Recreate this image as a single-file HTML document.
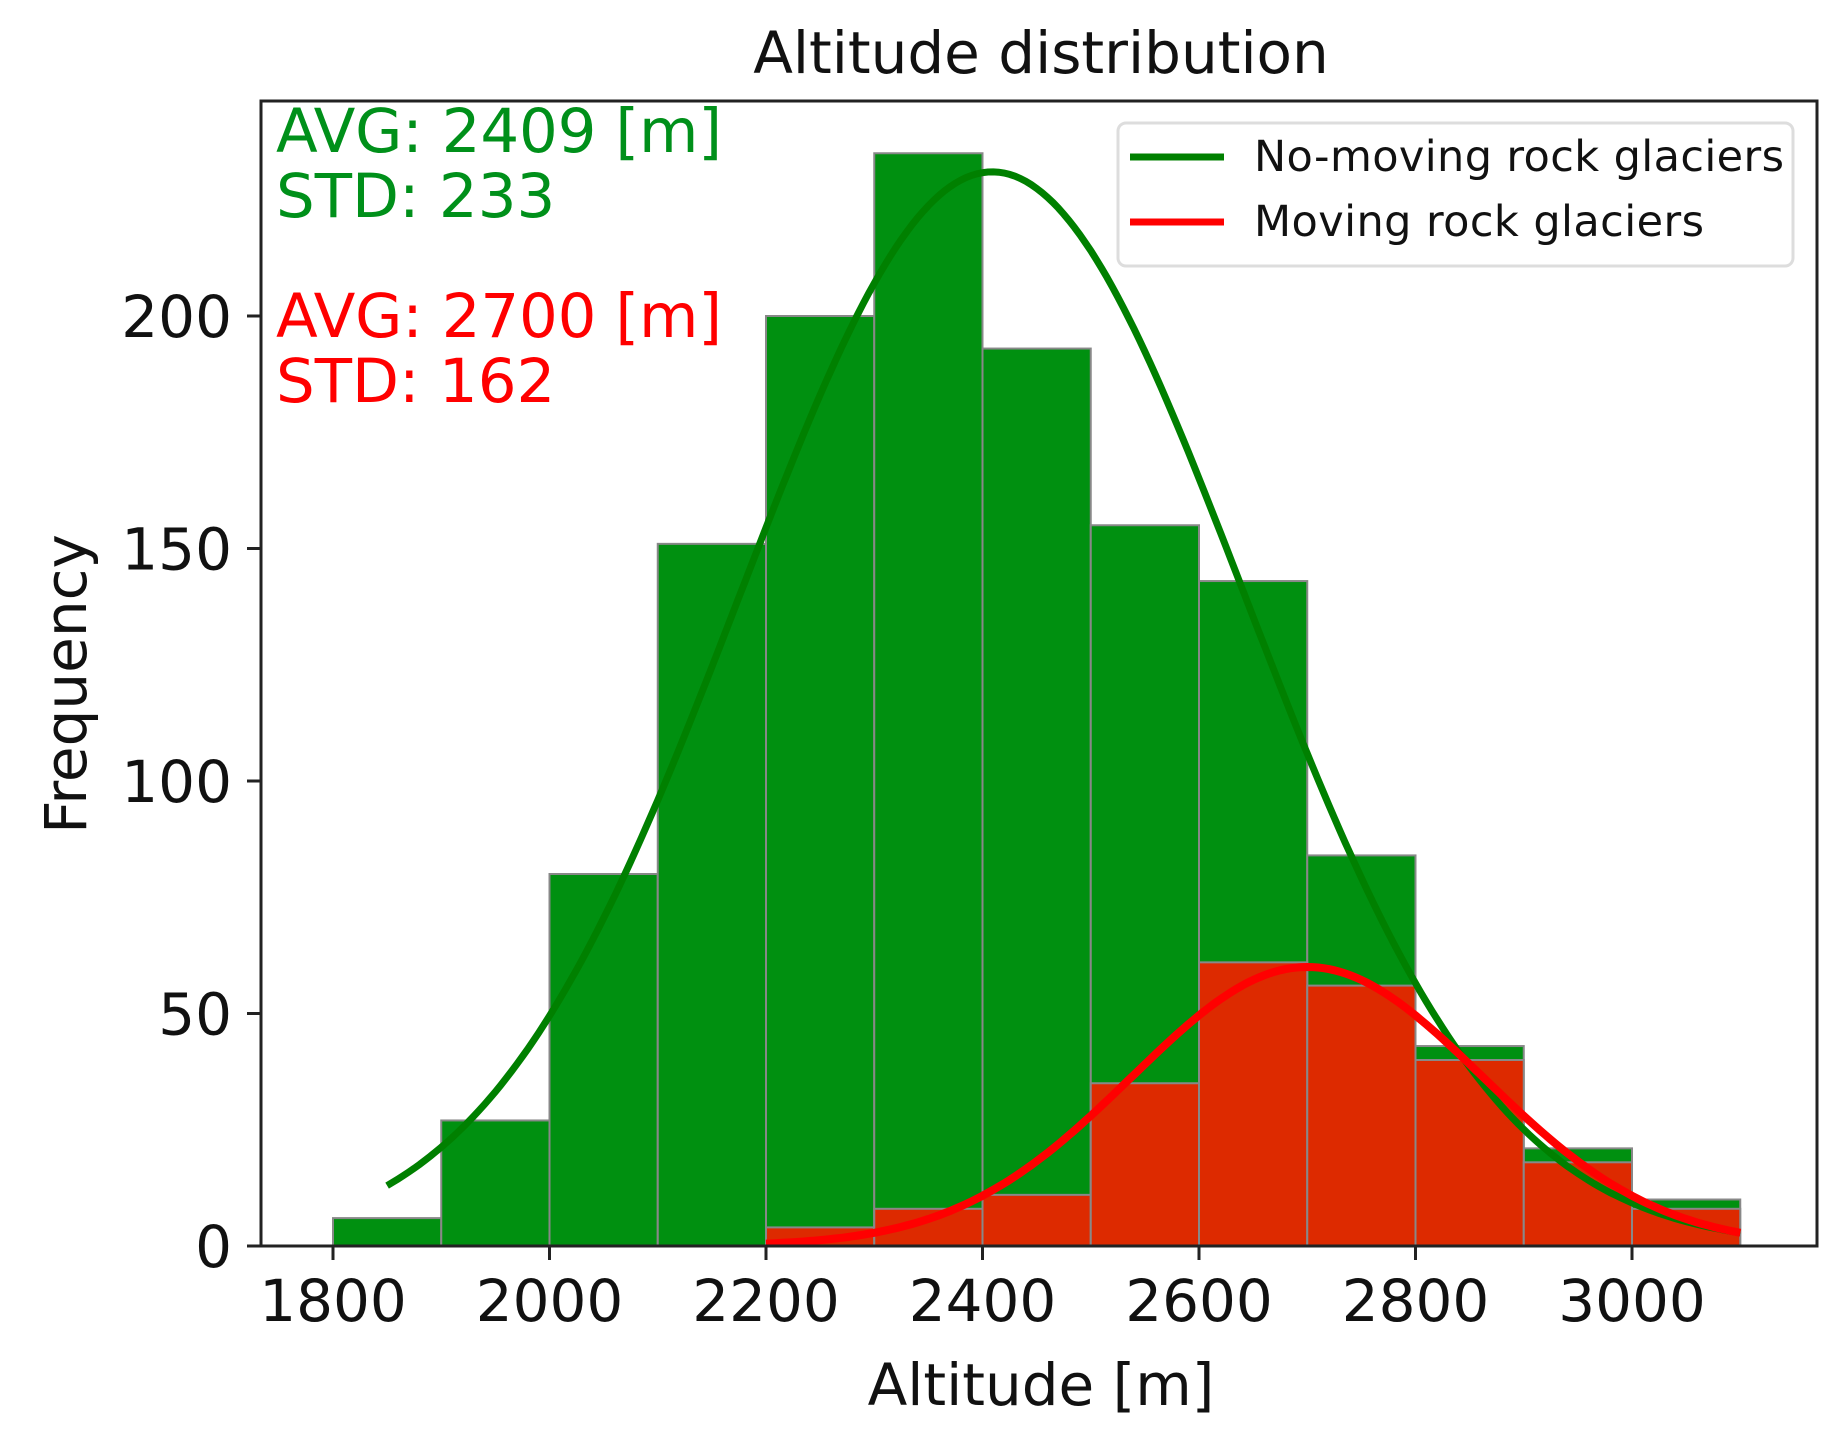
<!DOCTYPE html>
<html><head><meta charset="utf-8"><style>
html,body{margin:0;padding:0;background:#fff;}
svg{display:block;}
text{font-family:"DejaVu Sans","Liberation Sans",sans-serif;}
</style></head><body>
<svg id="s" width="1846" height="1440" viewBox="0 0 1846 1440" xmlns="http://www.w3.org/2000/svg">
<g id="bars"></g>
<g id="curves"></g>
<rect x="261" y="101" width="1556" height="1145" fill="none" stroke="#222" stroke-width="3"/>
<g id="ticks" stroke="#222" stroke-width="3"></g>
<g id="labels" font-size="58" fill="#111"></g>
<text x="1041" y="73" font-size="58" text-anchor="middle" fill="#111">Altitude distribution</text>
<text x="1041" y="1405" font-size="58" text-anchor="middle" fill="#111">Altitude [m]</text>
<text transform="translate(86,684) rotate(-90)" font-size="58" text-anchor="middle" fill="#111">Frequency</text>
<g font-size="61">
<text x="276" y="152" fill="#00901a" textLength="446">AVG: 2409 [m]</text>
<text x="276" y="217" fill="#00901a">STD: 233</text>
<text x="276" y="337" fill="#ff0000" textLength="446">AVG: 2700 [m]</text>
<text x="276" y="402" fill="#ff0000">STD: 162</text>
</g>
<rect x="1118" y="123" width="675" height="143" rx="8" fill="#fff" fill-opacity="0.85" stroke="#ddd" stroke-width="3"/>
<line x1="1130" y1="157" x2="1224" y2="157" stroke="#008000" stroke-width="7"/>
<line x1="1130" y1="222" x2="1224" y2="222" stroke="#ff0000" stroke-width="7"/>
<text x="1254" y="171" font-size="43" fill="#111" textLength="530">No-moving rock glaciers</text>
<text x="1254" y="236" font-size="43" fill="#111" textLength="450">Moving rock glaciers</text>
</svg>
<script>
const X=v=>333+(v-1800)*1.0825, Y=c=>1246-c*4.65;
const g=[6,27,80,151,200,235,193,155,143,84,43,21,10];
const r={2200:4,2300:8,2400:11,2500:35,2600:61,2700:56,2800:40,2900:18,3000:8};
let h='';
g.forEach((c,i)=>{const v=1800+i*100;h+=`<rect x="${X(v)}" y="${Y(c)}" width="${X(v+100)-X(v)}" height="${c*4.65}" fill="#009010" stroke="#888" stroke-width="2"/>`;});
for(const k in r){const v=+k,c=r[k];h+=`<rect x="${X(v)}" y="${Y(c)}" width="${X(v+100)-X(v)}" height="${c*4.65}" fill="#dd2a00" stroke="#888" stroke-width="2"/>`;}
document.getElementById('bars').innerHTML=h;
function curve(m,s,p,a,b){let d='';for(let v=a;v<=b;v+=5){const y=p*Math.exp(-0.5*((v-m)/s)**2);d+=(d?'L':'M')+X(v).toFixed(1)+','+Y(y).toFixed(1);}return d;}
document.getElementById('curves').innerHTML=
`<path d="${curve(2409,233,231,1850,3100)}" fill="none" stroke="#008000" stroke-width="7"/>`+
`<path d="${curve(2700,162,60,2200,3100)}" fill="none" stroke="#ff0000" stroke-width="8"/>`;
let t='',l='';
for(let v=1800;v<=3000;v+=200){t+=`<line x1="${X(v)}" y1="1246" x2="${X(v)}" y2="1260"/>`;l+=`<text x="${X(v)}" y="1321" text-anchor="middle">${v}</text>`;}
for(let c=0;c<=200;c+=50){t+=`<line x1="247" y1="${Y(c)}" x2="261" y2="${Y(c)}"/>`;l+=`<text x="232" y="${Y(c)+21}" text-anchor="end">${c}</text>`;}
document.getElementById('ticks').innerHTML=t;document.getElementById('labels').innerHTML=l;
</script>
</body></html>
